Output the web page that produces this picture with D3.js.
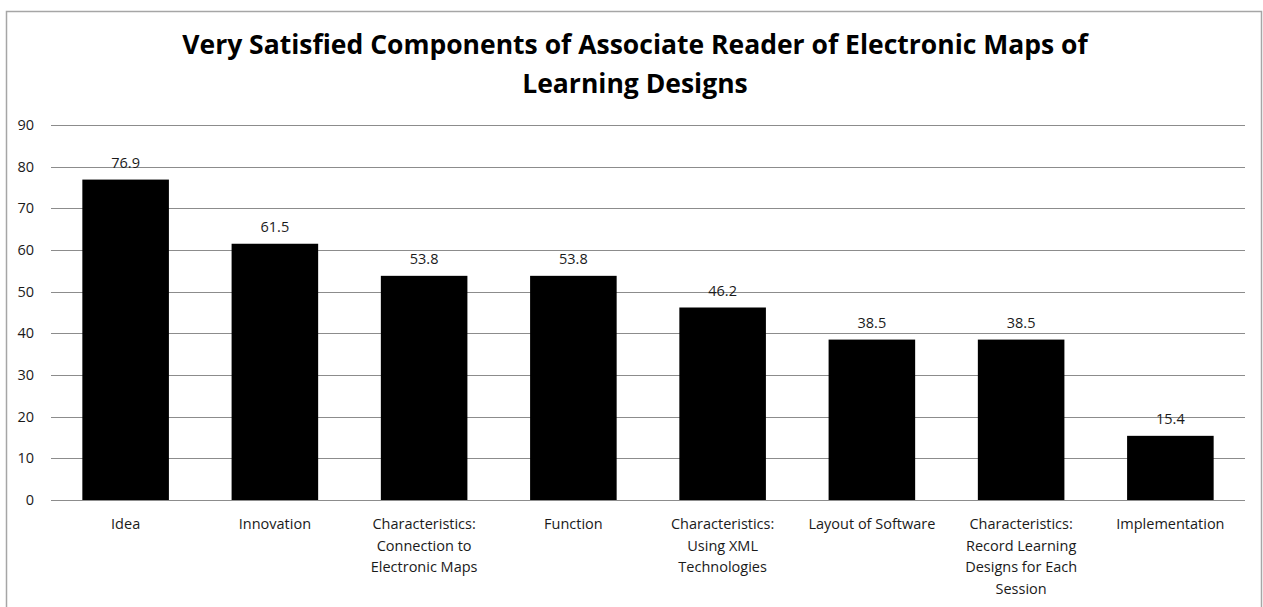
<!DOCTYPE html>
<html>
<head>
<meta charset="utf-8">
<script src="https://cdn.jsdelivr.net/npm/d3@7"></script>
<style>
  body { margin: 0; background: #fff; }
  #chart text { font-family: "Open Sans", "Noto Sans", sans-serif; }
</style>
</head>
<body>
<div id="chart"></div>
<script>
// chart data
var titleLines = ["Very Satisfied Components of Associate Reader of Electronic Maps of", "Learning Designs"];
var categories = [
  "Idea",
  "Innovation",
  "Characteristics:\nConnection to\nElectronic Maps",
  "Function",
  "Characteristics:\nUsing XML\nTechnologies",
  "Layout of Software",
  "Characteristics:\nRecord Learning\nDesigns for Each\nSession",
  "Implementation"
];
var values = [76.9, 61.5, 53.8, 53.8, 46.2, 38.5, 38.5, 15.4];
var yTicks = [0, 10, 20, 30, 40, 50, 60, 70, 80, 90];

var width = 1263, height = 607;
var margin = { top: 125, right: 18, bottom: 107, left: 51 };

var svg = d3.select("#chart").append("svg")
  .attr("width", width)
  .attr("height", height);

// outer frame
svg.append("rect")
  .attr("x", 6.5)
  .attr("y", 11.5)
  .attr("width", 1255)
  .attr("height", 620)
  .attr("fill", "none")
  .attr("stroke", "#a6a6a6")
  .attr("stroke-width", 1.5);

var x = d3.scaleBand()
  .domain(categories)
  .range([margin.left, width - margin.right])
  .paddingInner(0.42)
  .paddingOuter(0.21);

var y = d3.scaleLinear()
  .domain([0, 90])
  .range([height - margin.bottom, margin.top]);

// gridlines
svg.append("g")
  .selectAll("line")
  .data(yTicks)
  .enter().append("line")
  .attr("x1", margin.left)
  .attr("x2", width - margin.right)
  .attr("y1", function (d) { return Math.round(y(d)) + 0.5; })
  .attr("y2", function (d) { return Math.round(y(d)) + 0.5; })
  .attr("stroke", "#8c8c8c")
  .attr("stroke-width", 1);

// y axis labels
var yAxis = d3.axisLeft(y).tickValues(yTicks).tickSize(0).tickPadding(17);
var yg = svg.append("g")
  .attr("transform", "translate(" + margin.left + ",0)")
  .call(yAxis);
yg.select(".domain").remove();
yg.selectAll("text")
  .attr("font-size", 14.5)
  .attr("font-family", "\"Open Sans\", sans-serif")
  .attr("fill", "#1a1a1a");

// bars
svg.selectAll(".bar")
  .data(values)
  .enter().append("rect")
  .attr("class", "bar")
  .attr("x", function (d, i) { return x(categories[i]); })
  .attr("y", function (d) { return y(d); })
  .attr("width", x.bandwidth())
  .attr("height", function (d) { return y(0) - y(d); })
  .attr("fill", "#000");

// value labels
svg.selectAll(".val")
  .data(values)
  .enter().append("text")
  .attr("class", "val")
  .attr("x", function (d, i) { return x(categories[i]) + x.bandwidth() / 2; })
  .attr("y", function (d) { return y(d) - 12; })
  .attr("text-anchor", "middle")
  .attr("font-size", 14.5)
  .attr("fill", "#1a1a1a")
  .text(function (d) { return d.toFixed(1); });

// category labels
var cat = svg.selectAll(".cat")
  .data(categories)
  .enter().append("text")
  .attr("class", "cat")
  .attr("text-anchor", "middle")
  .attr("font-size", 14.5)
  .attr("fill", "#1a1a1a")
  .attr("transform", function (d) {
    return "translate(" + (x(d) + x.bandwidth() / 2) + "," + (y(0) + 29) + ")";
  });
cat.selectAll("tspan")
  .data(function (d) { return d.split("\n"); })
  .enter().append("tspan")
  .attr("x", 0)
  .attr("y", function (d, i) { return i * 21.7; })
  .text(function (d) { return d; });

// title
svg.append("g").selectAll("text")
  .data(titleLines)
  .enter().append("text")
  .attr("x", 635)
  .attr("y", function (d, i) { return 54 + i * 39; })
  .attr("text-anchor", "middle")
  .attr("font-size", 26.5)
  .attr("font-weight", "bold")
  .attr("fill", "#000")
  .text(function (d) { return d; });
</script>
</body>
</html>
